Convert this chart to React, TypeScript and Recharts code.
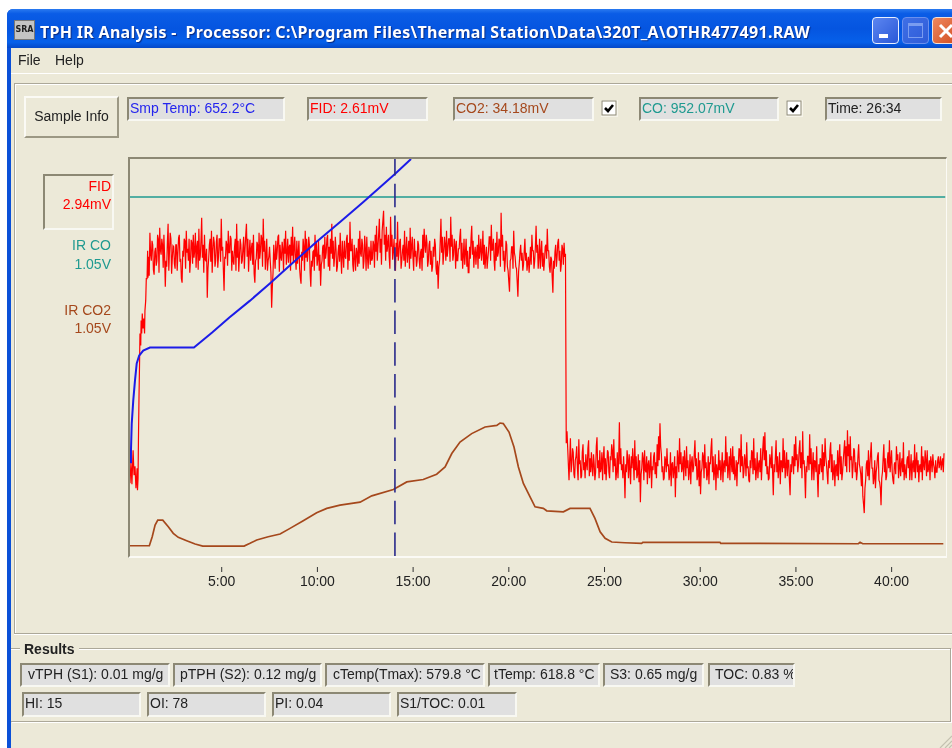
import React from "react";
import { LineChart, Line, XAxis, YAxis, ReferenceLine } from "recharts";

// ---- chart data: time in minutes, signal as height above baseline (arbitrary detector units)
const tickMinutes = [5, 10, 15, 20, 25, 30, 35, 40];
const cursorMinute = 14.05;
const X_MIN = 0.209;
const X_MAX = 42.84;
const Y_MAX = 398;

const coTimes = [0.21, 42.8];
const coValues = [360, 360];

const tempTimes = [0.21, 0.21, 0.23, 0.23, 0.26, 0.26, 0.3, 0.38, 0.47, 0.56, 0.69, 0.9, 1.25, 3.55, 4.5, 5.4, 6.48, 7.5, 8.6, 9.96, 11.2, 12.4, 14.05, 14.89];
const tempValues = [93, 106, 93, 106, 93, 106, 133, 156, 176, 193, 201, 206, 209, 209, 224, 239, 256, 273, 292, 315, 335, 355, 383, 398];

const co2Times = [0.21, 1.22, 1.37, 1.52, 1.66, 1.92, 2.21, 2.47, 2.73, 3.17, 3.61, 4.01, 6.17, 6.48, 6.83, 7.43, 8.05, 8.57, 9.26, 9.96, 10.49, 11.18, 12.23, 12.84, 13.97, 14.67, 15.53, 16.23, 16.67, 17.02, 17.45, 18.06, 18.76, 19.37, 19.54, 19.71, 20.01, 20.27, 20.5, 20.76, 21.11, 21.37, 21.8, 21.98, 22.85, 23.2, 24.24, 24.5, 24.77, 25.03, 25.38, 26.07, 26.94, 27.0, 31.03, 31.07, 38.26, 38.35, 38.49, 42.7];
const co2Values = [10.3, 10.3, 19.3, 31, 36, 36, 29.3, 22.7, 18.7, 15.3, 12, 10, 10, 12.7, 16, 19.3, 22, 27.7, 35.3, 43.3, 47.7, 51, 54, 60.3, 66.7, 74.3, 76.7, 82, 89.3, 102.7, 114.3, 122.7, 129.3, 131, 133.3, 132.7, 124.3, 109.3, 89.3, 72.7, 59.3, 49.3, 47.7, 45.3, 44.3, 47.7, 47.7, 37.7, 24.3, 17.7, 14, 13.3, 12.7, 13.7, 13.7, 12.7, 12.3, 13.7, 12.3, 12.3];

const fidRiseTimes = [0.21, 0.26, 0.31, 0.37, 0.42, 0.47, 0.52, 0.58, 0.6, 0.63, 0.65, 0.68, 0.71, 0.73, 0.77, 0.79, 0.82, 0.85, 0.89, 0.93, 0.97, 0.99, 1.03, 1.06, 1.1, 1.13, 1.15];
const fidRiseValues = [73, 94, 72, 106, 81, 90, 68, 88, 66, 78, 116, 160, 196, 223, 211, 236, 223, 243, 228, 238, 223, 246, 256, 278, 278, 306, 279];

const FID_STEP = 0.03655;
const fidPlateauStart = 1.176;
const fidPlateauOdd = [
  300, 324, 296, 312, 282, 309, 296, 318, 329, 302,
  312, 322, 270, 290, 333, 306, 318, 298, 310, 288,
  312, 304, 322, 298, 274, 300, 316, 326, 308, 318,
  296, 314, 322, 306, 289, 316, 328, 300, 339, 312,
  322, 296, 259, 298, 318, 326, 306, 314, 296, 322,
  300, 318, 338, 310, 266, 298, 312, 326, 304, 318,
  306, 292, 318, 333, 316, 300, 312, 296, 320, 308,
  333, 318, 304, 296, 314, 322, 274, 298, 312, 324,
  306, 318, 338, 316, 302, 286, 300, 296, 249, 284,
  300, 316, 306, 322, 312, 296, 308, 318, 326, 304,
  294, 312, 320, 330, 308, 298, 316, 304, 288, 273,
  296, 310, 326, 318, 304, 312, 270, 290, 306, 322,
  314, 298, 286, 271, 296, 312, 320, 304, 322, 310,
  318, 333, 316, 300, 308, 290, 312, 324, 283, 302,
  316, 298, 322, 314, 335, 306, 292, 312, 286, 304,
  318, 326, 300, 312, 296, 308, 320, 288, 304, 316,
  298, 312, 322, 331, 310, 338, 318, 326, 346, 322,
  330, 312, 300, 340, 322, 306, 292, 314, 335, 304,
  318, 296, 312, 326, 306, 294, 316, 329, 310, 300,
  318, 306, 296, 312, 288, 308, 322, 328, 304, 314,
  296, 316, 306, 290, 300, 312, 282, 268, 296, 338,
  320, 304, 312, 326, 308, 318, 340, 322, 302, 312,
  316, 296, 308, 328, 314, 300, 292, 318, 306, 284,
  298, 331, 316, 304, 292, 312, 322, 306, 296, 326,
  312, 300, 288, 306, 320, 332, 308, 296, 314, 325,
  304, 316, 344, 322, 306, 296, 312, 286, 265, 298,
  310, 326, 300, 288, 260, 294, 312, 304, 292, 318,
  304, 294, 284, 310, 322, 306, 296, 331, 312, 300,
  288, 316, 304, 296, 312, 328, 306, 284, 298, 264,
  288, 312, 300, 318, 306, 292, 308, 314, 303,
];
const fidPlateauEven = [
  281, 303, 316, 287, 305, 291, 322, 284, 307, 318,
  289, 300, 296, 315, 286, 324, 283, 311, 293, 312,
  286, 319, 295, 278, 306, 318, 288, 304, 296, 284,
  317, 293, 299, 324, 310, 287, 296, 316, 299, 284,
  297, 308, 288, 312, 295, 284, 320, 290, 315, 289,
  318, 295, 306, 287, 300, 316, 291, 304, 321, 286,
  296, 310, 286, 299, 285, 318, 293, 309, 288, 322,
  300, 285, 317, 308, 292, 283, 296, 315, 287, 298,
  322, 290, 305, 287, 318, 296, 310, 284, 270, 312,
  288, 297, 320, 285, 300, 315, 286, 303, 292, 318,
  310, 286, 301, 294, 320, 287, 293, 316, 279, 305,
  318, 286, 299, 295, 320, 284, 296, 305, 286, 300,
  291, 316, 302, 292, 310, 288, 298, 318, 290, 286,
  303, 298, 290, 320, 285, 305, 295, 300, 316, 289,
  300, 318, 287, 296, 306, 318, 285, 300, 309, 290,
  293, 304, 318, 288, 321, 286, 299, 310, 292, 296,
  316, 289, 305, 296, 323, 304, 292, 336, 312, 296,
  305, 322, 288, 310, 297, 318, 286, 300, 296, 315,
  288, 306, 296, 290, 320, 305, 288, 298, 320, 286,
  300, 290, 316, 296, 305, 286, 299, 312, 322, 290,
  312, 292, 285, 310, 318, 288, 296, 290, 316, 304,
  292, 320, 296, 300, 318, 295, 310, 296, 318, 288,
  296, 308, 320, 296, 288, 318, 304, 290, 284, 310,
  318, 302, 289, 310, 304, 288, 298, 318, 305, 292,
  288, 310, 298, 320, 296, 306, 318, 286, 296, 300,
  318, 290, 310, 296, 285, 316, 290, 275, 296, 310,
  288, 304, 290, 275, 285, 305, 296, 286, 305, 296,
  286, 300, 296, 292, 306, 288, 310, 304, 288, 318,
  305, 290, 286, 310, 298, 306, 290, 300, 280, 296,
  305, 290, 314, 296, 285, 312, 292, 300,
];

const fidDropTimes = [23.0, 23.04];
const fidDropValues = [113, 125];

const fidTailStart = 23.145;
const fidTailOdd = [
  76, 118, 92, 104, 78, 100, 88, 117, 96, 80,
  112, 94, 102, 86, 116, 98, 104, 80, 92, 84,
  119, 96, 106, 88, 76, 110, 98, 90, 104, 78,
  96, 106, 117, 98, 84, 78, 134, 108, 92, 100,
  58, 84, 96, 102, 72, 88, 94, 116, 100, 82,
  74, 54, 88, 98, 106, 84, 72, 96, 90, 68,
  86, 104, 94, 112, 120, 133, 102, 90, 78, 96,
  108, 92, 82, 70, 94, 86, 59, 78, 96, 118,
  104, 88, 76, 92, 110, 96, 84, 72, 100, 88,
  116, 98, 80, 70, 62, 88, 100, 112, 94, 82,
  72, 92, 118, 100, 84, 66, 86, 106, 96, 88,
  74, 96, 120, 104, 88, 76, 94, 110, 100, 82,
  70, 92, 106, 122, 100, 84, 96, 114, 90, 74,
  88, 104, 118, 98, 86, 78, 96, 108, 92, 120,
  124, 106, 90, 78, 96, 110, 61, 84, 116, 100,
  88, 72, 94, 118, 106, 90, 80, 96, 61, 84,
  98, 112, 120, 102, 92, 116, 104, 125, 96, 58,
  84, 100, 122, 108, 90, 76, 94, 110, 59, 82,
  96, 112, 104, 118, 92, 72, 88, 114, 102, 84,
  70, 92, 106, 98, 82, 76, 96, 116, 110, 126,
  112, 120, 100, 90, 106, 94, 84, 112, 88, 70,
  60, 43, 76, 96, 106, 92, 114, 88, 78, 68,
  90, 104, 74, 51, 84, 112, 98, 80, 104, 116,
  96, 84, 72, 94, 110, 102, 88, 80, 98, 114,
  92, 78, 100, 106, 88, 76, 96, 112, 94, 84,
  74, 92, 110, 100, 86, 96, 106, 88, 76, 94,
  102, 88, 96, 84, 100, 92, 86, 98, 103,
];
const fidTailEven = [
  98, 84, 108, 82, 96, 110, 76, 92, 78, 104,
  86, 78, 92, 108, 80, 84, 90, 102, 76, 110,
  88, 78, 84, 104, 98, 82, 76, 106, 84, 100,
  112, 84, 90, 76, 104, 98, 92, 86, 78, 84,
  92, 106, 78, 88, 100, 108, 76, 86, 78, 102,
  96, 82, 104, 76, 86, 100, 92, 78, 104, 90,
  100, 82, 78, 90, 96, 110, 84, 76, 100, 84,
  90, 76, 104, 92, 78, 100, 90, 106, 84, 92,
  84, 100, 106, 80, 88, 76, 102, 94, 84, 102,
  90, 76, 104, 96, 84, 104, 78, 88, 76, 100,
  94, 108, 84, 76, 102, 92, 78, 86, 76, 104,
  92, 84, 90, 78, 100, 108, 84, 82, 76, 96,
  94, 108, 84, 90, 78, 102, 80, 88, 76, 96,
  106, 82, 86, 76, 104, 92, 84, 76, 108, 96,
  90, 82, 76, 102, 88, 84, 92, 100, 84, 78,
  104, 96, 84, 88, 78, 104, 96, 76, 92, 100,
  82, 90, 96, 84, 108, 88, 78, 92, 82, 90,
  100, 86, 92, 76, 104, 96, 84, 80, 92, 98,
  84, 76, 90, 100, 82, 96, 106, 84, 76, 96,
  90, 80, 76, 112, 100, 84, 106, 90, 84, 100,
  84, 96, 78, 108, 84, 76, 100, 92, 82, 90,
  52, 68, 92, 80, 76, 102, 88, 72, 96, 84,
  100, 76, 68, 78, 98, 84, 76, 96, 88, 84,
  106, 76, 92, 82, 96, 78, 104, 92, 84, 76,
  84, 96, 88, 76, 102, 92, 84, 78, 104, 96,
  90, 84, 76, 92, 106, 80, 84, 96, 100, 84,
  92, 78, 84, 96, 88, 100, 94, 84,
];

// ---- window text
const titleText = "TPH IR Analysis -  Processor: C:\\Program Files\\Thermal Station\\Data\\320T_A\\OTHR477491.RAW";
const menuItems = ["File", "Help"];

const pair = (ts: number[], vs: number[]) => ts.map((t, i) => ({ t, v: vs[i] }));
const sampled = (start: number, odd: number[], even: number[]) =>
  odd.flatMap((v, i) => {
    const t = start + i * 2 * FID_STEP;
    return i < even.length ? [{ t, v }, { t: t + FID_STEP, v: even[i] }] : [{ t, v }];
  });

const coRows = pair(coTimes, coValues);
const tempRows = pair(tempTimes, tempValues);
const co2Rows = pair(co2Times, co2Values);
const fidRows = [
  ...pair(fidRiseTimes, fidRiseValues),
  ...sampled(fidPlateauStart, fidPlateauOdd, fidPlateauEven),
  ...pair(fidDropTimes, fidDropValues),
  ...sampled(fidTailStart, fidTailOdd, fidTailEven),
];

const FONT = '"Liberation Sans", Arial, sans-serif';
const BG = "#ece9d8";
const RED = "#ff0000";
const BROWN = "#a5481c";
const TEAL = "#1f9a90";
const BLUE = "#1c1ce8";

const abs = (left: number, top: number, width: number, height: number): React.CSSProperties => ({
  position: "absolute", left, top, width, height, boxSizing: "border-box",
});

function Field({ x0, x1, y0, y1, text, color = "#222", pad = 3 }: any) {
  return (
    <div style={{
      ...abs(x0, y0, x1 - x0, y1 - y0), background: "#e0e0e0",
      borderTop: "2px solid #8c8874", borderLeft: "2px solid #8c8874",
      borderRight: "2px solid #f8f8f2", borderBottom: "2px solid #f8f8f2",
      color, fontSize: 14, lineHeight: `${y1 - y0 - 6}px`, paddingLeft: pad - 2, whiteSpace: "nowrap", overflow: "hidden",
    }}>{text}</div>
  );
}

function Check({ x }: { x: number }) {
  return (
    <svg style={{ position: "absolute", left: x, top: 100 }} width={17} height={17}>
      <rect x={0} y={0} width={17} height={17} fill="#f6f4ea" />
      <rect x={1} y={1} width={14} height={14} fill="#ffffff" stroke="#8c8874" strokeWidth={1} />
      <path d="M4 8 L7 11 L12 5" fill="none" stroke="#000" strokeWidth={2.6} />
    </svg>
  );
}

function Tick({ x, y, payload }: any) {
  return (
    <g>
      <line x1={x} x2={x} y1={y + 11} y2={y + 16} stroke="#333" strokeWidth={1} />
      <text x={x} y={y + 30} textAnchor="middle" fontFamily={FONT} fontSize={14} fill="#222">
        {`${payload.value}:00`}
      </text>
    </g>
  );
}

const topFields = [
  { x0: 127, x1: 285, text: "Smp Temp: 652.2°C", color: "#2424ee" },
  { x0: 307, x1: 428, text: "FID: 2.61mV", color: RED },
  { x0: 453, x1: 594, text: "CO2: 34.18mV", color: BROWN },
  { x0: 639, x1: 779, text: "CO: 952.07mV", color: TEAL },
  { x0: 825, x1: 942, text: "Time: 26:34", color: "#222" },
];
const resultRow1 = [
  { x0: 20, x1: 170, text: "vTPH (S1): 0.01 mg/g", pad: 8 },
  { x0: 173, x1: 322, text: "pTPH (S2): 0.12 mg/g", pad: 7 },
  { x0: 325, x1: 485, text: "cTemp(Tmax): 579.8 °C", pad: 8 },
  { x0: 488, x1: 600, text: "tTemp: 618.8 °C", pad: 6 },
  { x0: 603, x1: 704, text: "S3: 0.65 mg/g", pad: 7 },
  { x0: 708, x1: 795, text: "TOC: 0.83 %", pad: 7 },
];
const resultRow2 = [
  { x0: 22, x1: 141, text: "HI: 15" },
  { x0: 147, x1: 266, text: "OI: 78" },
  { x0: 272, x1: 391, text: "PI: 0.04" },
  { x0: 397, x1: 517, text: "S1/TOC: 0.01" },
];
const sideLabels = [
  { top: 178, text: "FID", color: RED },
  { top: 196, text: "2.94mV", color: RED },
  { top: 237, text: "IR CO", color: TEAL },
  { top: 256, text: "1.05V", color: TEAL },
  { top: 302, text: "IR CO2", color: BROWN },
  { top: 320, text: "1.05V", color: BROWN },
];

export default function App() {
  return (
    <div style={{ position: "fixed", left: 0, top: 0, width: 952, height: 748, overflow: "hidden", background: "#fff", fontFamily: FONT, color: "#222", filter: "blur(0.35px)" }}>
      {/* window frame */}
      <div style={{ ...abs(7, 9, 945, 739), background: "#0a50d8", borderRadius: "6px 0 0 0" }} />
      <div style={{ ...abs(7, 9, 945, 39), borderRadius: "6px 0 0 0", background: "linear-gradient(180deg,#2a7af0 0%,#0a5ce6 12%,#0555e0 50%,#0660ea 85%,#0448c8 100%)" }} />
      <div style={{ ...abs(11, 48, 941, 700), background: BG }} />

      {/* icon + title */}
      <div style={{ ...abs(14, 20, 21, 20), background: "#c4c4c4", border: "1px solid #777", fontSize: 8, fontWeight: 700, color: "#222", textAlign: "center", lineHeight: "18px", fontFamily: '"DejaVu Sans"' }}>SRA</div>
      <div style={{ position: "absolute", left: 40, top: 21, color: "#fff", fontWeight: 700, fontSize: 16, lineHeight: "22px", letterSpacing: "0.3px", whiteSpace: "pre", textShadow: "1px 1px 1px #0a2a80", fontFamily: '"Noto Sans"' }}>{titleText}</div>

      {/* caption buttons */}
      <div style={{ ...abs(872, 17, 27, 27), borderRadius: 4, border: "1px solid #e8f0ff", background: "linear-gradient(135deg,#5c86f0,#2a58d8)" }}>
        <div style={{ ...abs(6, 16, 9, 4), background: "#fff" }} />
      </div>
      <div style={{ ...abs(902, 17, 27, 27), borderRadius: 4, border: "1px solid #6a90ee", background: "linear-gradient(135deg,#3f6fe6,#2f5cd8)" }}>
        <div style={{ ...abs(5, 5, 15, 15), border: "1px solid #7a9cf0", borderTop: "3px solid #7a9cf0" }} />
      </div>
      <div style={{ ...abs(932, 17, 30, 27), borderRadius: 4, border: "1px solid #f0e0d8", background: "linear-gradient(135deg,#ee8860,#d04a1c)", color: "#fff" }}>
        <svg style={{ position: "absolute", left: 4, top: 5 }} width={18} height={16}>
          <path d="M3 2 L15 14 M15 2 L3 14" stroke="#fff" strokeWidth={3} />
        </svg>
      </div>

      {/* menu */}
      {menuItems.map((m, i) => (
        <div key={m} style={{ position: "absolute", left: i === 0 ? 18 : 55, top: 52, fontSize: 14, lineHeight: "16px" }}>{m}</div>
      ))}
      <div style={{ ...abs(11, 73, 941, 1), background: "#fff" }} />

      {/* main panel */}
      <div style={{ ...abs(14, 83, 938, 551), borderTop: "1px solid #aca899", borderLeft: "1px solid #aca899", borderBottom: "1px solid #aca899", boxShadow: "inset 1px 1px 0 #fff, 0 1px 0 #fff" }} />

      {/* sample info */}
      <div style={{
        ...abs(24, 96, 95, 42), background: BG, borderTop: "2px solid #fbfaf5", borderLeft: "2px solid #fbfaf5",
        borderRight: "2px solid #9c9884", borderBottom: "2px solid #9c9884", textAlign: "center", fontSize: 14, lineHeight: "36px",
      }}>Sample Info</div>

      {topFields.map((f) => (
        <Field key={f.text} x0={f.x0} x1={f.x1} y0={97} y1={121} text={f.text} color={f.color} />
      ))}
      <Check x={601} />
      <Check x={786} />

      {/* side labels */}
      <div style={{ ...abs(43, 174, 71, 56), borderTop: "2px solid #8c8874", borderLeft: "2px solid #8c8874", borderRight: "2px solid #f8f8f2", borderBottom: "2px solid #f8f8f2" }} />
      {sideLabels.map((l, i) => (
        <div key={i} style={{ position: "absolute", right: 952 - 111, top: l.top, fontSize: 14, lineHeight: "16px", color: l.color }}>{l.text}</div>
      ))}

      {/* plot frame */}
      <div style={{ ...abs(128, 157, 819, 401), borderTop: "2px solid #8c8874", borderLeft: "2px solid #8c8874", borderRight: "1px solid #fbfaf5", borderBottom: "2px solid #fbfaf5" }} />

      {/* chart */}
      <div style={{ position: "absolute", left: 0, top: 0 }}>
        <LineChart width={952} height={748} margin={{ left: 130, right: 6, top: 159, bottom: 162 }}>
          <XAxis
            type="number" dataKey="t" domain={[X_MIN, X_MAX]} allowDataOverflow ticks={tickMinutes}
            height={30} axisLine={false} tickLine={false} tickSize={0} tickMargin={0} interval={0} tick={<Tick />}
          />
          <YAxis hide type="number" domain={[0, Y_MAX]} allowDataOverflow />
          <Line data={coRows} dataKey="v" stroke={TEAL} strokeWidth={1.5} dot={false} isAnimationActive={false} />
          <Line data={fidRows} dataKey="v" stroke={RED} strokeWidth={1.2} dot={false} isAnimationActive={false} />
          <Line data={co2Rows} dataKey="v" stroke={BROWN} strokeWidth={1.7} dot={false} isAnimationActive={false} />
          <Line data={tempRows} dataKey="v" stroke={BLUE} strokeWidth={2} dot={false} isAnimationActive={false} />
          <ReferenceLine x={cursorMinute} stroke="#2a2a8c" strokeWidth={1.6} strokeDasharray="23.5 8.2" />
        </LineChart>
      </div>

      {/* results group */}
      <div style={{ ...abs(11, 648, 940, 74), borderTop: "1px solid #aca899", borderRight: "1px solid #aca899", borderBottom: "1px solid #aca899", boxShadow: "inset 0 1px 0 #fff, 1px 1px 0 #fff" }} />
      <div style={{ position: "absolute", left: 20, top: 641, padding: "0 4px", background: BG, fontSize: 14, fontWeight: 700, lineHeight: "16px" }}>Results</div>
      {resultRow1.map((f) => (
        <Field key={f.text} x0={f.x0} x1={f.x1} y0={663} y1={687} text={f.text} pad={f.pad} />
      ))}
      {resultRow2.map((f) => (
        <Field key={f.text} x0={f.x0} x1={f.x1} y0={692} y1={717} text={f.text} />
      ))}

      {/* resize grip */}
      <svg style={{ position: "absolute", left: 938, top: 734 }} width={14} height={14}>
        <path d="M14 2 L2 14 M14 7 L7 14 M14 11 L11 14" stroke="#c4c1b0" strokeWidth={1.2} />
      </svg>
    </div>
  );
}
